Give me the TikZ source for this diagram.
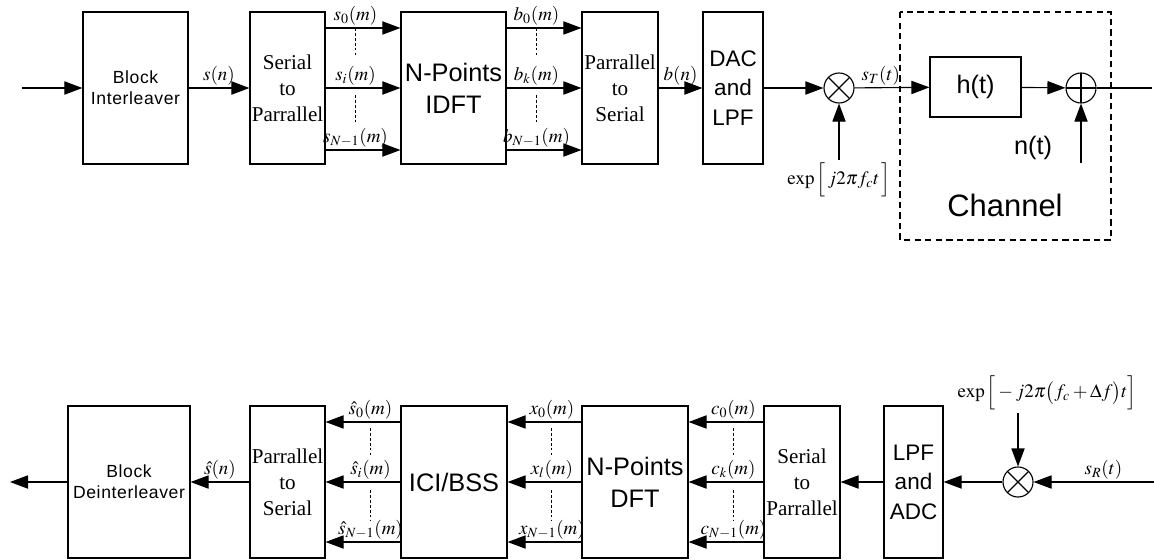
\documentclass[tikz,border=0pt]{standalone}
\usepackage{mathptmx}
\usepackage[no-math]{fontspec}
\setmainfont{Liberation Serif}
\setsansfont{Liberation Sans}
\usetikzlibrary{arrows.meta, positioning}

\begin{document}
\begin{tikzpicture}[x=0.025cm, y=-0.025cm, line width=0.8pt,
    tahap/.style={draw, minimum height=3.8cm, align=center, inner sep=0pt},
    huruf/.style={font=\sffamily\fontsize{18}{23}\selectfont},
    hurufkecil/.style={font=\sffamily\fontsize{12.5}{15}\selectfont\addfontfeature{LetterSpace=3.5}},
    hurufdac/.style={font=\sffamily\fontsize{16}{21}\selectfont},
    serif/.style={font=\fontsize{15}{18.5}\selectfont},
    sinyal/.style={font=\fontsize{13.5}{15}\selectfont, inner sep=1.5pt},
    panah/.style={-{Triangle[length=0.45cm, width=0.33cm]}},
    titik/.style={line width=0.6pt, dash pattern=on 2pt off 1.5pt},
    kali/.style={draw, circle, minimum size=0.75cm, inner sep=0pt,
                 path picture={\draw (path picture bounding box.north west) -- (path picture bounding box.south east)
                                     (path picture bounding box.north east) -- (path picture bounding box.south west);}},
    jumlah/.style={draw, circle, minimum size=0.75cm, inner sep=0pt,
                   path picture={\draw (path picture bounding box.north) -- (path picture bounding box.south)
                                       (path picture bounding box.west) -- (path picture bounding box.east);}}
  ]
    \useasboundingbox (0,0) rectangle (1154,559);

    \node[tahap, hurufkecil, minimum width=2.625cm] (intl) at (135.5,88) {Block\\Interleaver};
    \node[tahap, serif, minimum width=1.875cm]      (sp)   at (287.5,88) {Serial\\to\\Parrallel};
    \node[tahap, huruf, minimum width=2.625cm]      (idft) at (453.5,88) {N-Points\\IDFT};
    \node[tahap, serif, minimum width=1.9cm]        (ps)   at (620,88)   {Parrallel\\to\\Serial};
    \node[tahap, hurufdac, minimum width=1.5cm]     (dac)  at (733,88)   {DAC\\and\\LPF};
    \node[kali] (kali1) at (839,88) {};
    \node[draw, huruf, minimum width=2.275cm, minimum height=1.5cm] (ht) at (975.5,87) {h(t)};
    \node[jumlah] (tambah) at (1081,88) {};
    \coordinate (masuk) at (22,88);
    \coordinate (keluar) at (1152,88);
    \coordinate (nbawah) at (1081,163);
    \node[sinyal] (exp1) at (839,180) {$\exp\Big[\,j2\pi f_c t\,\Big]$};
    \node[huruf] (nt) at (1033,148) {n(t)};
    \node[font=\sffamily\fontsize{22}{26}\selectfont] (kanal) at (1005,205) {Channel};
    \draw[line width=0.8pt, dash pattern=on 4.5pt off 3pt] (900,12) rectangle (1111,240);

    \draw[panah] (masuk) -- (intl);
    \draw[panah] (intl) -- node[sinyal, above] {$s(n)$} (sp);
    \draw[panah] ([yshift=1.5cm]sp.east) -- node[sinyal, above, pos=0.4] {$s_0(m)$} coordinate[pos=0.4] (sa0) ([yshift=1.5cm]idft.west);
    \draw[panah] (sp) -- node[sinyal, above, pos=0.4] {$s_i(m)$} coordinate[pos=0.4] (sa1) (idft);
    \draw[panah] ([yshift=-1.55cm]sp.east) -- node[sinyal, above, pos=0.4] {$s_{N-1}(m)$} ([yshift=-1.55cm]idft.west);
    \draw[titik] (sa0) -- ++(0,27);
    \draw[titik] ([yshift=-0.175cm]sa1) -- ++(0,28);
    \draw[panah] ([yshift=1.5cm]idft.east) -- node[sinyal, above, pos=0.4] {$b_0(m)$} coordinate[pos=0.4] (ba0) ([yshift=1.5cm]ps.west);
    \draw[panah] (idft) -- node[sinyal, above, pos=0.4] {$b_k(m)$} coordinate[pos=0.4] (ba1) (ps);
    \draw[panah] ([yshift=-1.55cm]idft.east) -- node[sinyal, above, pos=0.4] {$b_{N-1}(m)$} ([yshift=-1.55cm]ps.west);
    \draw[titik] (ba0) -- ++(0,27);
    \draw[titik] ([yshift=-0.175cm]ba1) -- ++(0,28);
    \draw[panah] (ps) -- node[sinyal, above] {$b(n)$} (dac);
    \draw[panah] (dac) -- (kali1);
    \draw[panah] (kali1) -- node[sinyal, above, pos=0.35] {$s_T(t)$} (ht);
    \draw[panah] (ht) -- (tambah);
    \draw (tambah) -- (keluar);
    \draw[panah] (exp1.north -| kali1) -- (kali1);
    \draw[panah] (nbawah) -- (tambah);

    \node[tahap, hurufkecil, minimum width=3.05cm] (deintl) at (129,482) {Block\\Deinterleaver};
    \node[tahap, serif, minimum width=1.875cm]     (ps2)    at (287.5,482) {Parrallel\\to\\Serial};
    \node[tahap, huruf, minimum width=2.65cm]      (ici)    at (454,482) {ICI/BSS};
    \node[tahap, huruf, minimum width=2.65cm]      (dft)    at (635,482) {N-Points\\DFT};
    \node[tahap, serif, minimum width=1.9cm]       (sp2)    at (802,482) {Serial\\to\\Parrallel};
    \node[tahap, hurufdac, minimum width=1.475cm]  (lpf)    at (913.5,482) {LPF\\and\\ADC};
    \node[kali] (kali2) at (1018,482) {};
    \coordinate (sR) at (1154,482);
    \coordinate (ujung) at (10,482);
    \node[sinyal] (exp2) at (1047,393) {$\exp\Big[-j2\pi\big(f_c+\Delta f\big)t\Big]$};

    \draw[panah] (sR) -- node[sinyal, above, pos=0.42] {$s_R(t)$} (kali2);
    \draw[panah] (exp2.south -| kali2) -- (kali2);
    \draw[panah] (kali2) -- (lpf);
    \draw[panah] (lpf) -- (sp2);
    \draw[panah] ([yshift=1.5cm]sp2.west) -- node[sinyal, above, pos=0.4] {$c_0(m)$} coordinate[pos=0.4] (ca0) ([yshift=1.5cm]dft.east);
    \draw[panah] (sp2) -- node[sinyal, above, pos=0.4] {$c_k(m)$} coordinate[pos=0.4] (ca1) (dft);
    \draw[panah] ([yshift=-1.5cm]sp2.west) -- node[sinyal, above, pos=0.4] {$c_{N-1}(m)$} ([yshift=-1.5cm]dft.east);
    \draw[titik] ([yshift=-0.15cm]ca0) -- ++(0,28);
    \draw[titik] ([yshift=-0.2cm]ca1) -- ++(0,30);
    \draw[panah] ([yshift=1.5cm]dft.west) -- node[sinyal, above, pos=0.4] {$x_0(m)$} coordinate[pos=0.4] (xa0) ([yshift=1.5cm]ici.east);
    \draw[panah] (dft) -- node[sinyal, above, pos=0.4] {$x_l(m)$} coordinate[pos=0.4] (xa1) (ici);
    \draw[panah] ([yshift=-1.5cm]dft.west) -- node[sinyal, above, pos=0.4] {$x_{N-1}(m)$} ([yshift=-1.5cm]ici.east);
    \draw[titik] ([yshift=-0.15cm]xa0) -- ++(0,28);
    \draw[titik] ([yshift=-0.2cm]xa1) -- ++(0,30);
    \draw[panah] ([yshift=1.5cm]ici.west) -- node[sinyal, above, pos=0.4] {$\hat{s}_0(m)$} coordinate[pos=0.4] (hs0) ([yshift=1.5cm]ps2.east);
    \draw[panah] (ici) -- node[sinyal, above, pos=0.4] {$\hat{s}_i(m)$} coordinate[pos=0.4] (hs1) (ps2);
    \draw[panah] ([yshift=-1.5cm]ici.west) -- node[sinyal, above, pos=0.4] {$\hat{s}_{N-1}(m)$} ([yshift=-1.5cm]ps2.east);
    \draw[titik] ([yshift=-0.15cm]hs0) -- ++(0,28);
    \draw[titik] ([yshift=-0.2cm]hs1) -- ++(0,30);
    \draw[panah] (ps2) -- node[sinyal, above] {$\hat{s}(n)$} (deintl);
    \draw[panah] (deintl) -- (ujung);
  \end{tikzpicture}
\end{document}
